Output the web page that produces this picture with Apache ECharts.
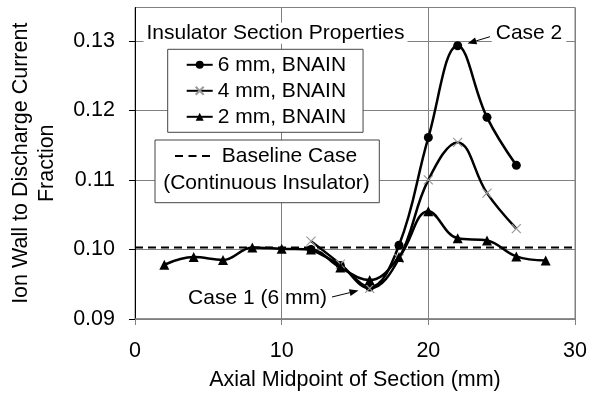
<!DOCTYPE html>
<html>
<head>
<meta charset="utf-8">
<script src="https://cdn.jsdelivr.net/npm/echarts@6/dist/echarts.min.js"></script>
<style>html,body{margin:0;padding:0;background:#fff}#c{width:596px;height:398px}</style>
</head>
<body>
<div id="c"></div>
<script>
// ---- data ----
const xTwoMm = [2, 4, 6, 8, 10, 12, 14, 16, 18, 20, 22, 24, 26, 28];
const twoMm = [0.0978, 0.0989, 0.0985, 0.1003, 0.1001, 0.1000, 0.0974, 0.0956, 0.0989, 0.1055, 0.1016, 0.1013, 0.0990, 0.0984];
const xSixFour = [12, 14, 16, 18, 20, 22, 24, 26];
const sixMm = [0.1000, 0.0977, 0.0946, 0.1006, 0.1161, 0.1293, 0.1190, 0.1121];
const fourMm = [0.1012, 0.0979, 0.0944, 0.0987, 0.1100, 0.1154, 0.1081, 0.1030];
const baselineX = [0, 30];
const baselineValue = 0.1003;
const yTicks = [0.09, 0.10, 0.11, 0.12, 0.13];
const xTicks = [0, 10, 20, 30];
const seriesNames = ['6 mm, BNAIN', '4 mm, BNAIN', '2 mm, BNAIN'];

const FONT = "'Liberation Sans', Arial, sans-serif";
const pair = (xs, ys) => xs.map((x, i) => [x, ys[i]]);

function arrow(x1, y1, x2, y2) {
  const a = Math.atan2(y2 - y1, x2 - x1), L = 9, W = 3.5;
  const bx = x2 - L * Math.cos(a), by = y2 - L * Math.sin(a);
  const px = -Math.sin(a) * W, py = Math.cos(a) * W;
  return [
    { type: 'line', shape: { x1, y1, x2: bx, y2: by }, style: { stroke: '#000', lineWidth: 1 }, z: 100 },
    { type: 'polygon', shape: { points: [[x2, y2], [bx + px, by + py], [bx - px, by - py]] }, style: { fill: '#000' }, z: 100 }
  ];
}

const chart = echarts.init(document.getElementById('c'), null, { renderer: 'canvas' });
const xSym = 'path://M0,0L10,10M10,0L0,10';
chart.setOption({
  animation: false,
  backgroundColor: '#fff',
  textStyle: { fontFamily: FONT },
  grid: { left: 132.7, right: 21, top: 7.5, bottom: 79, show: true, borderColor: '#808080', borderWidth: 1 },
  xAxis: {
    type: 'value', min: 0, max: 30, interval: 10,
    name: 'Axial Midpoint of Section (mm)', nameLocation: 'middle', nameGap: 50,
    nameTextStyle: { fontSize: 21.5, color: '#000', fontFamily: FONT },
    axisLine: { show: true, lineStyle: { color: '#808080', width: 1.5 } },
    axisTick: { show: true, length: 6, lineStyle: { color: '#808080' } },
    axisLabel: { fontSize: 21.5, color: '#000', margin: 21, fontFamily: FONT },
    splitLine: { show: true, lineStyle: { color: '#808080', width: 1 } }
  },
  yAxis: {
    type: 'value', min: 0.09, max: 0.1348, interval: 0.01,
    name: 'Ion Wall to Discharge Current\nFraction', nameLocation: 'middle', nameRotate: 90, nameGap: 75,
    nameTextStyle: { fontSize: 21.5, color: '#000', fontFamily: FONT, lineHeight: 26, align: 'center' },
    axisLine: { show: true, lineStyle: { color: '#000', width: 1 } },
    axisTick: { show: true, length: 6, customValues: yTicks, lineStyle: { color: '#000' } },
    axisLabel: { fontSize: 21.5, color: '#000', margin: 20, fontFamily: FONT, customValues: yTicks,
      formatter: v => v.toFixed(2) },
    splitLine: { show: true, lineStyle: { color: '#808080', width: 1 } }
  },
  legend: {
    data: seriesNames, orient: 'vertical', left: 167.7, top: 49.3,
    backgroundColor: '#fff', borderColor: '#444', borderWidth: 1,
    padding: [5, 17, 5, 18], itemGap: 5, itemWidth: 26, itemHeight: 10,
    textStyle: { fontSize: 21, color: '#000', fontFamily: FONT }
  },
  series: [
    { name: '6 mm, BNAIN', type: 'line', data: pair(xSixFour, sixMm), smooth: 0.4,
      symbol: 'circle', symbolSize: 9, showAllSymbol: true,
      lineStyle: { color: '#000', width: 2.5 }, itemStyle: { color: '#000' }, z: 3 },
    { name: '4 mm, BNAIN', type: 'line', data: pair(xSixFour, fourMm), smooth: 0.4,
      symbol: xSym, symbolSize: 9, showAllSymbol: true,
      lineStyle: { color: '#000', width: 2.5 }, itemStyle: { color: 'rgba(0,0,0,0)', borderColor: '#999', borderWidth: 1.2 }, z: 4 },
    { name: '2 mm, BNAIN', type: 'line', data: pair(xTwoMm, twoMm), smooth: 0.4,
      symbol: 'triangle', symbolSize: 10, showAllSymbol: true,
      lineStyle: { color: '#000', width: 2.5 }, itemStyle: { color: '#000' }, z: 5 },
    { name: 'Baseline Case', type: 'line', data: baselineX.map(x => [x, baselineValue]),
      symbol: 'none', lineStyle: { color: '#000', width: 2, type: [8, 5] }, z: 2 }
  ],
  graphic: [
    { type: 'text', x: 275.5, y: 33.3, z: 50,
      style: { text: 'Insulator Section Properties', font: '21px ' + FONT, fill: '#000', align: 'center', verticalAlign: 'middle', backgroundColor: '#fff', padding: [0, 3] } },
    { type: 'rect', shape: { x: 155, y: 140, width: 224.3, height: 62.7 }, z: 50,
      style: { fill: '#fff', stroke: '#444', lineWidth: 1 } },
    { type: 'line', shape: { x1: 175, y1: 156, x2: 214, y2: 156 }, z: 51,
      style: { stroke: '#000', lineWidth: 2, lineDash: [8, 5.5] } },
    { type: 'text', x: 221.7, y: 156, z: 51,
      style: { text: 'Baseline Case', font: '21px ' + FONT, fill: '#000', align: 'left', verticalAlign: 'middle' } },
    { type: 'text', x: 266.5, y: 183, z: 51,
      style: { text: '(Continuous Insulator)', font: '21px ' + FONT, fill: '#000', align: 'center', verticalAlign: 'middle' } },
    { type: 'text', x: 529, y: 33, z: 50,
      style: { text: 'Case 2', font: '21px ' + FONT, fill: '#000', align: 'center', verticalAlign: 'middle', backgroundColor: '#fff', padding: [0, 4] } },
    { type: 'text', x: 257.5, y: 298, z: 50,
      style: { text: 'Case 1 (6 mm)', font: '21px ' + FONT, fill: '#000', align: 'center', verticalAlign: 'middle' } },
    ...arrow(490, 36.7, 467.5, 43.5),
    ...arrow(332, 297, 358.5, 290.5)
  ]
});
</script>
</body>
</html>
